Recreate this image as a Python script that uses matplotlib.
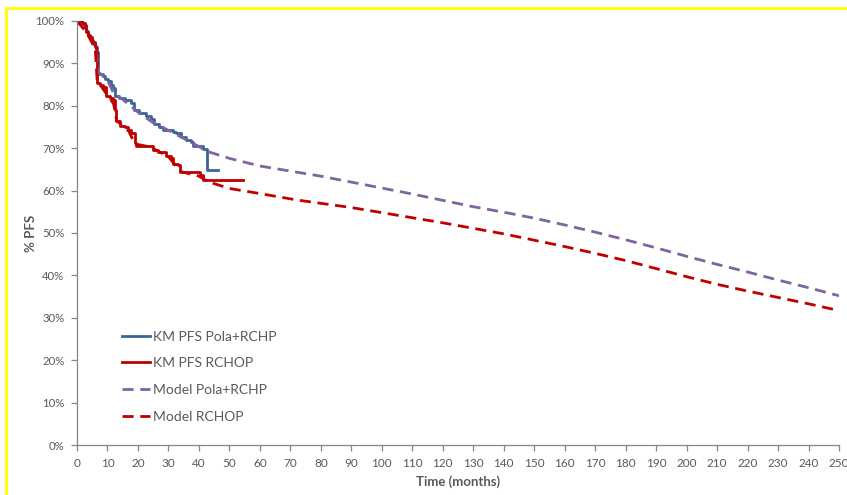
import matplotlib
matplotlib.use('Agg')
import matplotlib.pyplot as plt
from matplotlib.patches import Rectangle
from matplotlib.ticker import FuncFormatter, MultipleLocator

plt.rcParams['font.family'] = ['Lato', 'DejaVu Sans']

# KM PFS, Pola+R-CHP arm (months, % PFS), drawn as steps
pola_t = [0, 1.5, 2.3, 2.9, 3.5, 4.0, 4.6, 5.2, 5.8, 6.4, 6.9, 8.4, 9.3, 10.2, 11.0, 11.8,
          12.4, 13.8, 15.8, 17.6, 18.8, 20.5, 22.6, 24.3, 25.4, 26.8, 28.2, 31.6, 32.6,
          34.2, 35.9, 37.4, 38.0, 41.5, 42.6, 46.2]
pola_s = [100, 99.6, 98.6, 97.6, 96.8, 96.2, 95.4, 94.6, 93.8, 92.8, 87.6, 87.0, 86.4, 85.8,
          85.0, 84.2, 82.4, 81.8, 81.3, 80.6, 79.0, 78.2, 77.7, 76.9, 75.8, 75.0, 74.2, 73.9,
          73.5, 72.7, 71.9, 71.5, 70.6, 69.8, 64.8, 64.8]

# KM PFS, R-CHOP arm
rchop_t = [0, 1.8, 2.5, 3.0, 3.6, 4.2, 5.0, 5.8, 6.3, 6.6, 7.4, 8.5, 9.4, 10.7, 11.8, 12.4,
           12.9, 14.0, 15.6, 16.7, 17.8, 18.9, 19.5, 24.4, 25.0, 26.6, 29.3, 31.0, 31.5,
           33.0, 33.7, 40.3, 41.4, 54.5]
rchop_s = [100, 99.5, 99.0, 97.5, 96.8, 96.3, 95.0, 94.0, 92.8, 85.3, 84.9, 84.4, 82.2, 81.8,
           81.4, 79.0, 76.3, 75.3, 75.1, 74.3, 73.5, 71.2, 70.6, 70.4, 69.6, 69.2, 68.2, 67.6,
           66.3, 66.1, 64.3, 63.6, 62.5, 62.5]

# modelled (extrapolated) PFS curves
model_pola_t = [0, 3, 6, 7, 10, 12, 15, 20, 25, 30, 35, 40, 42.5, 50, 60, 70, 80, 90, 100,
                110, 120, 130, 140, 150, 160, 170, 180, 190, 200, 210, 220, 230, 240, 250]
model_pola_s = [100, 97.5, 93.5, 88.0, 86.0, 83.0, 81.5, 78.5, 76.0, 74.2, 72.3, 70.4, 69.3,
                67.6, 65.8, 64.6, 63.4, 62.0, 60.6, 59.2, 57.7, 56.2, 54.9, 53.5, 51.9, 50.2,
                48.4, 46.5, 44.5, 42.6, 40.8, 38.9, 37.1, 35.2]

model_rchop_t = [0, 3, 6, 6.6, 9, 12, 13, 17, 19, 24, 30, 34, 40, 43, 50, 60, 72, 80, 90,
                 100, 110, 120, 130, 140, 150, 160, 170, 180, 190, 200, 210, 220, 230, 240, 250]
model_rchop_s = [100, 97.5, 93.5, 86.0, 83.5, 80.5, 76.5, 74.0, 71.0, 70.3, 68.0, 64.5, 63.4,
                 62.1, 60.5, 59.3, 57.8, 57.0, 56.0, 54.8, 53.6, 52.4, 51.1, 49.8, 48.3, 46.8,
                 45.2, 43.5, 41.6, 39.7, 37.9, 36.3, 34.8, 33.3, 31.7]

BLUE = '#3C6496'
RED = '#C00000'
PURPLE = '#8064A2'
GREY = '#595959'
AXIS = '#868686'

fig = plt.figure(figsize=(8.47, 4.95), dpi=100)
ax = fig.add_axes([0.0909, 0.101, 0.8997, 0.8566])

ax.plot(pola_t, [v / 100 for v in pola_s], drawstyle='steps-post', color=BLUE, lw=2.0,
        label='KM PFS Pola+RCHP')
ax.plot(rchop_t, [v / 100 for v in rchop_s], drawstyle='steps-post', color=RED, lw=2.0,
        label='KM PFS RCHOP')
ax.plot(model_pola_t, [v / 100 for v in model_pola_s], color=PURPLE, lw=2.0,
        dashes=(4, 2.4), label='Model Pola+RCHP')
ax.plot(model_rchop_t, [v / 100 for v in model_rchop_s], color=RED, lw=2.0,
        dashes=(4, 2.4), label='Model RCHOP')

ax.set_xlim(0, 250)
ax.set_ylim(0, 1)
ax.xaxis.set_major_locator(MultipleLocator(10))
ax.yaxis.set_major_locator(MultipleLocator(0.1))
ax.yaxis.set_major_formatter(FuncFormatter(lambda v, p: f'{v * 100:.0f}%'))

for side in ['top', 'right']:
    ax.spines[side].set_visible(False)
for side in ['left', 'bottom']:
    ax.spines[side].set_color(AXIS)
    ax.spines[side].set_linewidth(0.9)
ax.tick_params(axis='both', colors=AXIS, labelcolor=GREY,
               length=4, width=0.9, direction='out')
ax.tick_params(axis='x', labelsize=8.5, pad=5)
ax.tick_params(axis='y', labelsize=8.2, pad=5)

ax.set_xlabel('Time (months)', fontsize=9.5, fontweight='bold', color=GREY, labelpad=5)
ax.set_ylabel('% PFS', fontsize=9.5, fontweight='bold', color=GREY)
ax.yaxis.set_label_coords(-0.053, 0.5)

ax.legend(loc='upper left', bbox_to_anchor=(0.0517, 0.283), frameon=False, fontsize=10,
          labelcolor=GREY, handlelength=2.0, handletextpad=0.22, labelspacing=1.06,
          borderaxespad=0)

# yellow frame round the slide
fig.patches.append(Rectangle((5.5 / 847, -0.1), 1.2, 1.1 - 8 / 495,
                             transform=fig.transFigure, fill=False,
                             edgecolor='#FFFF00', lw=2.0))

fig.savefig('out.png', dpi=100)
